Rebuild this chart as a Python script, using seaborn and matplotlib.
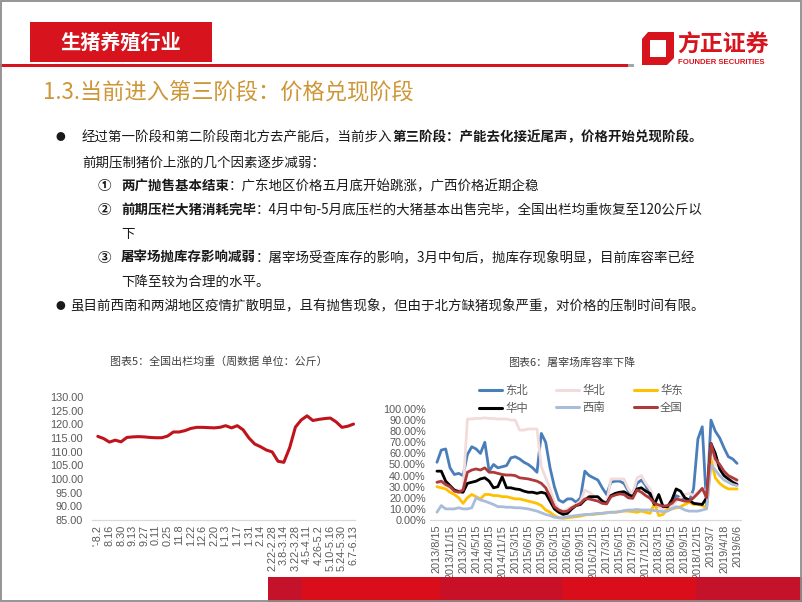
import numpy as np
import pandas as pd
import matplotlib
matplotlib.use("Agg")
import matplotlib.pyplot as plt
import seaborn as sns
from matplotlib.patches import Rectangle, Polygon
from matplotlib.lines import Line2D

# ---------------- data ----------------
week_labels = ["'-8.2", "8.16", "8.30", "9.13", "9.27", "0.11", "0.25", "11.8", "1.22", "12.6",
               "2.20", "l-1.3", "1.17", "1.31", "2.14", "2.22-2.28", "3.8-3.14", "3.22-3.28",
               "4.5-4.11", "4.26-5.2", "5.10-5.16", "5.24-5.30", "6.7-6.13"]
weight = [115.6, 114.8, 113.5, 114.2, 113.6, 115.2, 115.4, 115.5, 115.4, 115.2,
          115.1, 115.1, 115.7, 117.2, 117.2, 117.7, 118.5, 118.9, 118.9, 118.8,
          118.7, 118.9, 119.5, 118.7, 119.5, 118.0, 115.0, 112.8, 111.8, 110.6,
          109.9, 106.5, 106.1, 111.4, 119.0, 121.6, 123.1, 121.4, 121.8, 122.1,
          122.3, 120.9, 118.9, 119.3, 120.1]

date_labels = ["2013/8/15", "2013/11/15", "2013/2/15", "2014/5/15", "2014/8/15", "2014/11/15",
               "2015/3/15", "2015/6/15", "2015/9/30", "2016/3/15", "2016/6/15", "2016/9/15",
               "2016/12/15", "2017/3/15", "2015/6/15", "2017/9/15", "2017/12/15", "2018/3/15",
               "2018/6/15", "2018/9/15", "2018/12/15", "2019/3/7", "2019/4/18", "2019/6/6"]
region_names = ["东北", "华北", "华东", "华中", "西南", "全国"]
dongbei = [52, 63, 64, 47, 41, 42, 40, 59, 66, 64, 60, 70, 44, 50, 47, 48, 49, 56, 57, 55,
           52, 50, 47, 43, 78, 70, 47, 30, 18, 16, 19, 19, 16, 20, 44, 40, 38, 36, 29, 23,
           34, 35, 35, 33, 26, 24, 33, 36, 31, 22, 14, 12, 12, 12, 17, 22, 20, 18, 17, 28,
           73, 84, 12, 90, 80, 74, 65, 57, 55, 51]
huabei = [34, 33, 31, 29, 27, 27, 27, 91, 91, 91.5, 91.5, 92, 91.5, 91.5, 91, 91, 91, 90, 90, 81,
          81, 82, 82, 82, 48, 38, 28, 16, 10, 8, 10, 12, 14, 17, 27, 25, 22, 20, 18, 15,
          37, 37, 37, 37, 28, 23, 38, 40, 33, 28, 18, 12, 9, 9, 12, 17, 20, 23, 24, 22,
          25, 28, 25, 65, 50, 48, 42, 38, 36, 34]
huadong = [30, 29, 28, 25, 23, 20, 15, 20, 23, 21, 19, 23, 23, 22, 22, 21, 21, 20, 19, 19,
           18, 17, 16, 15, 13, 9, 7, 4, 2, 1.5, 2, 2.5, 3, 3.5, 4.5, 5, 5, 5.5, 6, 6.5,
           7, 7, 7.5, 8, 8, 7.5, 7, 8, 7, 6, 15, 4, 5, 10, 10, 11, 12, 14, 16, 14,
           14, 13, 11, 55, 38, 33, 30, 28, 28, 28]
huazhong = [44, 44, 35, 31, 27, 25.5, 25, 33, 34, 35, 37, 38, 35, 29, 30, 39, 29, 29, 28, 27.5,
            26, 25, 25, 24, 25, 24, 17, 10, 7, 5, 6, 10, 13, 14, 18, 21, 21, 21, 17, 15,
            22, 24, 25, 25.5, 23, 21, 28, 29, 26, 24, 14, 23, 12, 12, 18, 28, 26, 20, 18, 15,
            14.5, 14, 20, 69, 60, 46, 40, 37, 34, 32]
xinan = [7, 13, 10, 10, 10, 11, 10, 10, 11, 20, 18, 17, 15.5, 14, 12, 12, 11.5, 11.5, 11, 11,
         10.5, 10, 9, 8, 6.5, 5, 4, 2.5, 2, 2, 3, 3.5, 4, 4.5, 5, 5, 5.5, 6, 6, 6.5,
         7, 7, 7.5, 8.5, 9, 9, 9.5, 9, 9, 9, 8.5, 8, 7.5, 8, 10, 12, 11, 9, 8, 8,
         8, 9, 10, 50, 45, 40, 36, 34, 32, 31]
quanguo = [34, 35, 32, 30, 26, 25, 27, 43, 45, 46, 45, 47, 43, 43, 42, 41, 40.5, 40.5, 40, 38,
           37.5, 37, 36, 35, 33, 29, 21, 12, 9, 7.5, 8, 11, 13, 15, 19, 19, 18, 17, 15, 14.5,
           21, 22.5, 23.5, 23, 20, 19.5, 27, 25, 22, 19.5, 15, 13.5, 12.5, 13, 15, 19, 18, 17, 17, 20,
           24, 28.5, 20, 69, 55, 50, 44, 40, 38, 36]
region_colors = ["#4A7EBB", "#F2DCDB", "#FFC000", "#000000", "#A9BCDA", "#AE3A3C"]

# ---------------- figure ----------------
sns.set_theme(style="white")
plt.rcParams['font.family'] = ['Noto Sans CJK SC', 'DejaVu Sans']

W, H = 802, 602
fig = plt.figure(figsize=(W / 100, H / 100), dpi=100)
fig.patch.set_facecolor("white")


def fx(x):
    return x / W


def fy(y):
    return 1 - y / H


def rect(x0, y0, x1, y1, color, z=1, **kw):
    fig.patches.append(Rectangle((fx(x0), fy(y1)), fx(x1) - fx(x0), fy(y0) - fy(y1),
                                 transform=fig.transFigure, facecolor=color, edgecolor='none',
                                 zorder=z, **kw))


RED = "#D7141E"
# header
rect(30, 22, 212, 62, RED)
fig.text(fx(121), fy(42), "生猪养殖行业", color="white", fontsize=14.5, fontweight="bold",
         ha="center", va="center")
rect(0, 64, 628, 67, RED)
rect(628, 64, 634, 67, "#A6A6A6")

# logo
outer = [(648, 32), (674, 32), (674, 58), (667, 65), (642, 65), (642, 39)]
inner = [(650, 40), (666, 40), (666, 57), (650, 57)]
fig.patches.append(Polygon([(fx(a), fy(b)) for a, b in outer], closed=True,
                           transform=fig.transFigure, facecolor=RED, edgecolor='none', zorder=2))
fig.patches.append(Polygon([(fx(a), fy(b)) for a, b in inner], closed=True,
                           transform=fig.transFigure, facecolor='white', edgecolor='none', zorder=3))
fig.text(fx(677), fy(45), "方正证券", color=RED, fontsize=16.5, fontweight="bold",
         ha="left", va="center")
fig.text(fx(678), fy(62.5), "FOUNDER SECURITIES", color=RED, fontsize=5.6, fontweight="bold",
         ha="left", va="center", family=["Liberation Sans", "DejaVu Sans"])

# title
fig.text(fx(43), fy(92), "1.3.当前进入第三阶段：价格兑现阶段", color="#CD9636", fontsize=16,
         ha="left", va="center")

# body text
renderer = fig.canvas.get_renderer()
TXT = "#1A1A1A"
FS = 9.7


def segs(x, y, parts, size=FS):
    for s, bold in parts:
        t = fig.text(fx(x), fy(y), s, fontsize=size, fontweight="bold" if bold else "normal",
                     color=TXT, ha="left", va="center")
        x += t.get_window_extent(renderer).width


fig.text(fx(60), fy(137), "●", fontsize=7, color=TXT, ha="center", va="center")
segs(82, 137, [("经过第一阶段和第二阶段南北方去产能后，当前步入", False),
               ("第三阶段：产能去化接近尾声，价格开始兑现阶段。", True)])
segs(82, 162, [("前期压制猪价上涨的几个因素逐步减弱：", False)])
for yy, num in [(186, "①"), (210, "②"), (258, "③")]:
    fig.text(fx(98), fy(yy), num, fontsize=FS, fontweight="bold", color=TXT, ha="left", va="center")
segs(121, 186, [("两广抛售基本结束", True), ("：广东地区价格五月底开始跳涨，广西价格近期企稳", False)])
segs(121, 210, [("前期压栏大猪消耗完毕", True),
                ("：4月中旬-5月底压栏的大猪基本出售完毕，全国出栏均重恢复至120公斤以", False)])
segs(121, 234, [("下", False)])
segs(121, 258, [("屠宰场抛库存影响减弱", True),
                ("：屠宰场受查库存的影响，3月中旬后，抛库存现象明显，目前库容率已经", False)])
segs(121, 282, [("下降至较为合理的水平。", False)])
fig.text(fx(60), fy(306), "●", fontsize=7, color=TXT, ha="center", va="center")
segs(70, 306, [("虽目前西南和两湖地区疫情扩散明显，且有抛售现象，但由于北方缺猪现象严重，对价格的压制时间有限。", False)])

# chart titles
fig.text(fx(218.5), fy(362), "图表5：全国出栏均重（周数据 单位：公斤）", fontsize=7.9,
         color="#404040", ha="center", va="center")
fig.text(fx(571.5), fy(363), "图表6：屠宰场库容率下降", fontsize=7.9,
         color="#404040", ha="center", va="center")

TICKFONT = ["Liberation Sans", "DejaVu Sans"]
GRAY = "#595959"


def style_axes(ax, ypad, xpad):
    for s in ["top", "right", "left"]:
        ax.spines[s].set_visible(False)
    ax.spines["bottom"].set_color("#D9D9D9")
    ax.spines["bottom"].set_linewidth(0.9)
    ax.tick_params(axis="both", length=0, colors=GRAY, labelsize=7.8)
    ax.tick_params(axis="y", pad=ypad)
    ax.tick_params(axis="x", pad=xpad)
    for lab in ax.get_xticklabels() + ax.get_yticklabels():
        lab.set_family(TICKFONT)
        lab.set_color(GRAY)
    ax.grid(False)
    ax.set_facecolor("none")


# left chart
axL = fig.add_axes([fx(92), fy(520), (355 - 92) / W, (520 - 397) / H])
dfw = pd.DataFrame({"idx": np.arange(len(weight)), "weight": weight})
sns.lineplot(data=dfw, x="idx", y="weight", ax=axL, color="#C0141C", linewidth=2.2)
axL.set_xlim(-1.0, 44.25)
axL.set_ylim(85, 130)
axL.set_yticks(np.arange(85, 131, 5))
axL.set_yticklabels([f"{v:.2f}" for v in np.arange(85, 131, 5)])
axL.set_xticks(np.arange(0, len(weight), 2))
axL.set_xticklabels(week_labels, rotation=90)
axL.set_xlabel("")
axL.set_ylabel("")
style_axes(axL, 6.5, 3.5)

# right chart
axR = fig.add_axes([fx(430), fy(520), (741.4 - 430) / W, (520 - 409) / H])
series = [dongbei, huabei, huadong, huazhong, xinan, quanguo]
n = len(dongbei)
dfr = pd.DataFrame({
    "idx": np.tile(np.arange(n), len(series)),
    "region": np.repeat(region_names, n),
    "rate": np.concatenate([np.array(s, dtype=float) for s in series]),
})
sns.lineplot(data=dfr, x="idx", y="rate", hue="region", hue_order=region_names,
             palette=region_colors, ax=axR, linewidth=2.0, legend=False)
axR.set_xlim(-1.6, 70.0)
axR.set_ylim(0, 100)
axR.set_yticks(np.arange(0, 101, 10))
axR.set_yticklabels([f"{v:.2f}%" for v in np.arange(0, 101, 10)])
axR.set_xticks(np.arange(0, n, 3))
axR.set_xticklabels(date_labels, rotation=90)
axR.set_xlabel("")
axR.set_ylabel("")
style_axes(axR, 3, 3.5)

order = [0, 3, 1, 4, 2, 5]
handles = [Line2D([0], [0], color=region_colors[i], lw=2.2) for i in order]
labels = [region_names[i] for i in order]
leg = fig.legend(handles, labels, ncol=3, loc="upper left", bbox_to_anchor=(fx(479), fy(385)),
                 frameon=False, fontsize=8.2, handlelength=2.0, handletextpad=0.3,
                 columnspacing=2.5, labelspacing=0.55, borderaxespad=0, borderpad=0)
for t in leg.get_texts():
    t.set_color(GRAY)

# bottom bar
bar_parts = [(268, 302, "#C4122B"), (302, 440, "#DA0E1B"), (440, 563, "#C81126"),
             (563, 696, "#DA0E1B"), (696, 802, "#C4122B")]
for a, b, c in bar_parts:
    rect(a, 577, b, 602, c, z=0.5)

# border
fig.patches.append(Rectangle((0.0008, 0.001), 0.998, 0.997, transform=fig.transFigure,
                             facecolor="none", edgecolor="#8C8C8C", linewidth=1.3, zorder=5))

fig.savefig("out.png", dpi=100)
